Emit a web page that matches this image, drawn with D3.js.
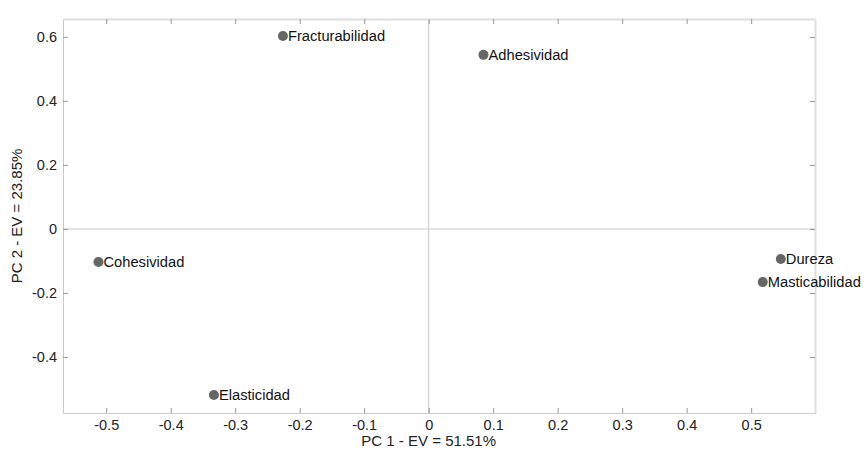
<!DOCTYPE html>
<html>
<head>
<meta charset="utf-8">
<script src="https://cdn.jsdelivr.net/npm/d3@7"></script>
<style>
  body { margin: 0; background: #fff; }
  text { font-family: "Liberation Sans", Arial, sans-serif; }
</style>
</head>
<body>
<div id="chart-container"></div>
<script>
// Loadings
const variables = ["Fracturabilidad", "Adhesividad", "Cohesividad", "Elasticidad", "Dureza", "Masticabilidad"];
const pc1 = [-0.226, 0.085, -0.512, -0.333, 0.546, 0.518];
const pc2 = [0.603, 0.544, -0.103, -0.519, -0.094, -0.166];
const xTicks = [-0.5, -0.4, -0.3, -0.2, -0.1, 0, 0.1, 0.2, 0.3, 0.4, 0.5];
const yTicks = [-0.4, -0.2, 0, 0.2, 0.4, 0.6];

const width = 868, height = 451;
const margin = { top: 19, right: 53, bottom: 38, left: 63 };
const innerWidth = width - margin.left - margin.right;
const innerHeight = height - margin.top - margin.bottom;

const svg = d3.select('#chart-container').append('svg')
  .attr('width', width)
  .attr('height', height);

const xScale = d3.scaleLinear()
  .domain([-0.567, 0.599])
  .range([margin.left, margin.left + innerWidth]);

const yScale = d3.scaleLinear()
  .domain([-0.575, 0.656])
  .range([margin.top + innerHeight, margin.top]);

const fmt = d => String(d);

// zero lines
svg.append('line')
  .attr('x1', xScale(0)).attr('x2', xScale(0))
  .attr('y1', margin.top).attr('y2', margin.top + innerHeight)
  .attr('stroke', '#c8c8c8');
svg.append('line')
  .attr('x1', margin.left).attr('x2', margin.left + innerWidth)
  .attr('y1', yScale(0)).attr('y2', yScale(0))
  .attr('stroke', '#c8c8c8');

// axes with inward ticks
const axisStyle = g => {
  g.select('.domain').attr('stroke', '#c8c8c8');
  g.selectAll('.tick line').attr('stroke', '#999');
  g.selectAll('.tick text').attr('fill', '#222').style('font-size', '14.5px');
};
const mirror = g => {
  g.selectAll('.tick text').remove();
  g.select('.domain').attr('stroke', '#ddd').attr('stroke-width', 2);
};

svg.append('g')
  .attr('transform', `translate(0,${margin.top + innerHeight})`)
  .call(d3.axisBottom(xScale).tickValues(xTicks).tickSize(-5).tickPadding(7)
    .tickSizeOuter(0).tickFormat(fmt))
  .call(axisStyle);

svg.append('g')
  .attr('transform', `translate(0,${margin.top})`)
  .call(d3.axisTop(xScale).tickValues(xTicks).tickSize(-5).tickSizeOuter(0))
  .call(axisStyle)
  .call(mirror);

svg.append('g')
  .attr('transform', `translate(${margin.left},0)`)
  .call(d3.axisLeft(yScale).tickValues(yTicks).tickSize(-5).tickPadding(6)
    .tickSizeOuter(0).tickFormat(fmt))
  .call(axisStyle);

svg.append('g')
  .attr('transform', `translate(${margin.left + innerWidth},0)`)
  .call(d3.axisRight(yScale).tickValues(yTicks).tickSize(-5).tickSizeOuter(0))
  .call(axisStyle)
  .call(mirror);

// points
const data = variables.map((v, i) => ({ name: v, x: pc1[i], y: pc2[i] }));

svg.selectAll('.dot')
  .data(data)
  .enter().append('circle')
  .attr('class', 'dot')
  .attr('cx', d => xScale(d.x))
  .attr('cy', d => yScale(d.y))
  .attr('r', 5)
  .attr('fill', '#666');

svg.selectAll('.label')
  .data(data)
  .enter().append('text')
  .attr('class', 'label')
  .attr('x', d => xScale(d.x) + 5)
  .attr('y', d => yScale(d.y) + 5)
  .style('font-size', '14.7px')
  .attr('fill', '#111')
  .text(d => d.name);

// axis titles
svg.append('text')
  .attr('x', xScale(0))
  .attr('y', 446)
  .attr('text-anchor', 'middle')
  .attr('fill', '#222')
  .style('font-size', '15px')
  .text('PC 1 - EV = 51.51%');

svg.append('text')
  .attr('transform', `translate(22,216) rotate(-90)`)
  .attr('text-anchor', 'middle')
  .attr('fill', '#222')
  .style('font-size', '15px')
  .text('PC 2 - EV = 23.85%');
</script>
</body>
</html>
